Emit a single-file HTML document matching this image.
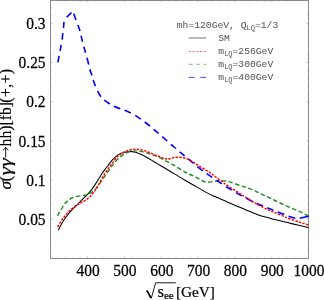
<!DOCTYPE html>
<html><head><meta charset="utf-8"><title>plot</title>
<style>
html,body{margin:0;padding:0;background:#fff;}
body{width:324px;height:300px;overflow:hidden;font-family:"Liberation Serif",serif;}
svg{display:block;will-change:transform;}
</style></head><body>
<svg width="324" height="300" viewBox="0 0 324 300">
<rect x="0" y="0" width="324" height="300" fill="#fff"/>
<rect x="50.50" y="0.50" width="258.00" height="258.00" fill="none" stroke="#8a8a8a" stroke-width="1.00"/>
<path d="M58.14 258.50v-1.10M58.14 0.50v1.10M65.50 258.50v-1.10M65.50 0.50v1.10M72.87 258.50v-1.10M72.87 0.50v1.10M80.23 258.50v-1.10M80.23 0.50v1.10M87.60 258.50v-1.80M87.60 0.50v1.80M94.97 258.50v-1.10M94.97 0.50v1.10M102.33 258.50v-1.10M102.33 0.50v1.10M109.70 258.50v-1.10M109.70 0.50v1.10M117.06 258.50v-1.10M117.06 0.50v1.10M124.43 258.50v-1.80M124.43 0.50v1.80M131.80 258.50v-1.10M131.80 0.50v1.10M139.16 258.50v-1.10M139.16 0.50v1.10M146.53 258.50v-1.10M146.53 0.50v1.10M153.89 258.50v-1.10M153.89 0.50v1.10M161.26 258.50v-1.80M161.26 0.50v1.80M168.63 258.50v-1.10M168.63 0.50v1.10M175.99 258.50v-1.10M175.99 0.50v1.10M183.36 258.50v-1.10M183.36 0.50v1.10M190.72 258.50v-1.10M190.72 0.50v1.10M198.09 258.50v-1.80M198.09 0.50v1.80M205.46 258.50v-1.10M205.46 0.50v1.10M212.82 258.50v-1.10M212.82 0.50v1.10M220.19 258.50v-1.10M220.19 0.50v1.10M227.55 258.50v-1.10M227.55 0.50v1.10M234.92 258.50v-1.80M234.92 0.50v1.80M242.29 258.50v-1.10M242.29 0.50v1.10M249.65 258.50v-1.10M249.65 0.50v1.10M257.02 258.50v-1.10M257.02 0.50v1.10M264.38 258.50v-1.10M264.38 0.50v1.10M271.75 258.50v-1.80M271.75 0.50v1.80M279.12 258.50v-1.10M279.12 0.50v1.10M286.48 258.50v-1.10M286.48 0.50v1.10M293.85 258.50v-1.10M293.85 0.50v1.10M301.21 258.50v-1.10M301.21 0.50v1.10M308.58 258.50v-1.80M308.58 0.50v1.80M50.50 250.25h1.10M308.50 250.25h-1.10M50.50 242.43h1.10M308.50 242.43h-1.10M50.50 234.60h1.10M308.50 234.60h-1.10M50.50 226.78h1.10M308.50 226.78h-1.10M50.50 218.95h1.80M308.50 218.95h-1.80M50.50 211.12h1.10M308.50 211.12h-1.10M50.50 203.30h1.10M308.50 203.30h-1.10M50.50 195.47h1.10M308.50 195.47h-1.10M50.50 187.65h1.10M308.50 187.65h-1.10M50.50 179.82h1.80M308.50 179.82h-1.80M50.50 171.99h1.10M308.50 171.99h-1.10M50.50 164.17h1.10M308.50 164.17h-1.10M50.50 156.34h1.10M308.50 156.34h-1.10M50.50 148.52h1.10M308.50 148.52h-1.10M50.50 140.69h1.80M308.50 140.69h-1.80M50.50 132.86h1.10M308.50 132.86h-1.10M50.50 125.04h1.10M308.50 125.04h-1.10M50.50 117.21h1.10M308.50 117.21h-1.10M50.50 109.39h1.10M308.50 109.39h-1.10M50.50 101.56h1.80M308.50 101.56h-1.80M50.50 93.73h1.10M308.50 93.73h-1.10M50.50 85.91h1.10M308.50 85.91h-1.10M50.50 78.08h1.10M308.50 78.08h-1.10M50.50 70.26h1.10M308.50 70.26h-1.10M50.50 62.43h1.80M308.50 62.43h-1.80M50.50 54.60h1.10M308.50 54.60h-1.10M50.50 46.78h1.10M308.50 46.78h-1.10M50.50 38.95h1.10M308.50 38.95h-1.10M50.50 31.13h1.10M308.50 31.13h-1.10M50.50 23.30h1.80M308.50 23.30h-1.80M50.50 15.47h1.10M308.50 15.47h-1.10M50.50 7.65h1.10M308.50 7.65h-1.10" stroke="#8a8a8a" stroke-width="0.60" fill="none"/>
<g fill="none" stroke-linecap="butt" stroke-linejoin="round">
<path d="M58.40 230.20 C58.60 229.77 58.93 228.90 59.60 227.60 C60.27 226.30 61.47 223.97 62.40 222.40 C63.33 220.83 64.27 219.52 65.20 218.20 C66.13 216.88 67.07 215.67 68.00 214.50 C68.93 213.33 69.87 212.25 70.80 211.20 C71.73 210.15 72.50 209.32 73.60 208.20 C74.70 207.08 76.15 205.75 77.40 204.50 C78.65 203.25 80.22 201.60 81.10 200.70 C81.98 199.80 81.67 200.10 82.70 199.10 C83.73 198.10 85.75 196.37 87.30 194.70 C88.85 193.03 90.58 190.97 92.00 189.10 C93.42 187.23 94.70 185.22 95.80 183.50 C96.90 181.78 97.83 180.02 98.60 178.80 C99.37 177.58 99.87 177.05 100.40 176.20 C100.93 175.35 100.98 174.90 101.80 173.70 C102.62 172.50 104.12 170.55 105.30 169.00 C106.48 167.45 107.72 165.92 108.90 164.40 C110.08 162.88 111.00 161.40 112.40 159.90 C113.80 158.40 115.93 156.45 117.30 155.40 C118.67 154.35 119.57 154.08 120.60 153.60 C121.63 153.12 121.98 152.87 123.50 152.50 C125.02 152.13 127.70 151.43 129.70 151.40 C131.70 151.37 133.73 151.87 135.50 152.30 C137.27 152.73 138.75 153.35 140.30 154.00 C141.85 154.65 143.02 155.22 144.80 156.20 C146.58 157.18 148.93 158.67 151.00 159.90 C153.07 161.13 155.13 162.37 157.20 163.60 C159.27 164.83 161.33 166.07 163.40 167.30 C165.47 168.53 167.75 169.90 169.60 171.00 C171.45 172.10 171.93 172.37 174.50 173.90 C177.07 175.43 181.40 178.08 185.00 180.20 C188.60 182.32 192.35 184.45 196.10 186.60 C199.85 188.75 204.35 191.43 207.50 193.10 C210.65 194.77 211.70 195.13 215.00 196.60 C218.30 198.07 223.50 200.27 227.30 201.90 C231.10 203.53 234.85 205.13 237.80 206.40 C240.75 207.67 241.75 208.17 245.00 209.50 C248.25 210.83 253.18 212.95 257.30 214.40 C261.42 215.85 266.75 217.33 269.70 218.20 C272.65 219.07 272.07 218.87 275.00 219.60 C277.93 220.33 283.18 221.62 287.30 222.60 C291.42 223.58 296.15 224.65 299.70 225.50 C303.25 226.35 307.12 227.33 308.60 227.70" stroke="#000" stroke-width="1.05"/>
<path d="M57.60 215.80 C57.93 215.18 58.80 213.48 59.60 212.10 C60.40 210.72 61.47 208.97 62.40 207.50 C63.33 206.03 64.27 204.43 65.20 203.30 C66.13 202.17 66.90 201.58 68.00 200.70 C69.10 199.82 70.30 198.72 71.80 198.00 C73.30 197.28 75.03 196.83 77.00 196.40 C78.97 195.97 81.93 195.65 83.60 195.40 C85.27 195.15 86.07 195.17 87.00 194.90 C87.93 194.63 88.20 194.38 89.20 193.80 C90.20 193.22 91.75 192.42 93.00 191.40 C94.25 190.38 95.62 188.95 96.70 187.70 C97.78 186.45 98.57 185.23 99.50 183.90 C100.43 182.57 101.37 181.03 102.30 179.70 C103.23 178.37 103.83 177.68 105.10 175.90 C106.37 174.12 108.27 171.28 109.90 169.00 C111.53 166.72 113.25 164.15 114.90 162.20 C116.55 160.25 118.15 158.73 119.80 157.30 C121.45 155.87 123.15 154.53 124.80 153.60 C126.45 152.67 127.92 152.15 129.70 151.70 C131.48 151.25 133.62 150.95 135.50 150.90 C137.38 150.85 139.03 151.03 141.00 151.40 C142.97 151.77 145.22 152.47 147.30 153.10 C149.38 153.73 151.43 154.43 153.50 155.20 C155.57 155.97 157.63 156.75 159.70 157.70 C161.77 158.65 163.85 159.80 165.90 160.90 C167.95 162.00 170.57 163.52 172.00 164.30 C173.43 165.08 172.33 164.30 174.50 165.60 C176.67 166.90 182.02 170.45 185.00 172.10 C187.98 173.75 189.93 174.28 192.40 175.50 C194.87 176.72 197.92 178.40 199.80 179.40 C201.68 180.40 202.42 181.03 203.70 181.50 C204.98 181.97 206.10 182.17 207.50 182.20 C208.90 182.23 210.55 181.92 212.10 181.70 C213.65 181.48 215.23 181.08 216.80 180.90 C218.37 180.72 219.93 180.58 221.50 180.60 C223.07 180.62 224.80 180.80 226.20 181.00 C227.60 181.20 227.65 181.07 229.90 181.80 C232.15 182.53 237.02 184.47 239.70 185.40 C242.38 186.33 243.53 186.52 246.00 187.40 C248.47 188.28 252.62 189.90 254.50 190.70 C256.38 191.50 254.77 191.00 257.30 192.20 C259.83 193.40 266.75 196.52 269.70 197.90 C272.65 199.28 272.73 199.38 275.00 200.50 C277.27 201.62 281.25 203.63 283.30 204.60 C285.35 205.57 284.57 205.12 287.30 206.30 C290.03 207.48 296.15 210.08 299.70 211.70 C303.25 213.32 307.12 215.28 308.60 216.00" stroke="#228b22" stroke-width="1.40" stroke-dasharray="4.4 2.5"/>
<path d="M57.90 62.30C58.10 61.23 58.73 57.78 59.10 55.90M60.10 51.00C60.45 49.15 60.86 46.70 61.20 44.80M62.15 39.60C62.42 37.65 62.62 35.03 62.85 33.10M63.50 28.00C63.70 26.13 63.80 23.37 64.05 21.90M66.60 17.30C67.68 16.20 70.52 13.50 71.50 12.60M73.70 13.60C74.27 14.95 75.20 18.10 75.90 20.00M77.90 25.00C78.58 26.83 79.47 29.23 80.00 31.00M81.10 35.60C81.52 37.38 82.05 39.85 82.50 41.70M83.80 46.70C84.32 48.55 85.07 50.95 85.60 52.80M87.00 57.80C87.52 59.77 88.23 62.68 88.70 64.60M89.80 69.30C90.33 71.10 91.33 73.62 91.90 75.40M93.20 80.00C93.78 81.78 94.68 84.28 95.40 86.10M97.50 90.90C98.42 92.67 99.77 95.17 100.90 96.70M104.30 100.10C105.78 101.32 108.20 102.98 109.80 104.00M113.90 106.20C115.65 107.00 118.52 108.12 120.30 108.80M124.60 110.30C126.35 111.01 129.03 112.20 130.80 113.05M135.20 115.40C136.87 116.41 139.20 118.00 140.80 119.10M144.80 122.00C146.35 123.18 148.63 124.98 150.10 126.20M153.60 129.30C155.03 130.50 157.27 132.20 158.70 133.40M162.20 136.50C163.63 137.77 165.83 139.68 167.30 141.00M171.00 144.40C172.45 145.68 174.55 147.45 176.00 148.70M179.70 151.90C181.13 153.10 183.20 154.73 184.60 155.90M188.10 158.90C189.60 160.17 192.07 162.22 193.60 163.50M197.30 166.60C198.85 167.83 201.35 169.73 202.90 170.90M206.60 173.60C208.15 174.68 210.55 176.29 212.20 177.40M216.50 180.25C218.10 181.33 220.20 182.83 221.80 183.90M226.10 186.70C227.75 187.72 230.05 189.02 231.70 190.00M236.00 192.60C237.70 193.58 240.22 194.99 241.90 195.90M246.05 198.05C247.75 198.94 250.32 200.36 252.10 201.25M256.70 203.40C258.50 204.16 261.15 205.07 262.90 205.80M267.20 207.80C268.95 208.53 271.67 209.48 273.40 210.20M277.60 212.10C279.42 212.82 282.47 213.82 284.30 214.50M288.60 216.20C290.45 216.82 293.90 217.80 295.40 218.20M299.70 218.20C301.53 217.80 307.12 216.53 308.60 216.20" stroke="#0000ff" stroke-width="1.60"/>
<path d="M57.70 226.80 C58.25 225.88 59.90 222.98 61.00 221.30 C62.10 219.62 63.13 218.18 64.30 216.70 C65.47 215.22 66.60 213.83 68.00 212.40 C69.40 210.97 71.13 209.35 72.70 208.10 C74.27 206.85 75.77 205.93 77.40 204.90 C79.03 203.87 80.65 203.05 82.50 201.90 C84.35 200.75 86.70 199.52 88.50 198.00 C90.30 196.48 91.88 194.55 93.30 192.80 C94.72 191.05 95.80 189.45 97.00 187.50 C98.20 185.55 99.27 183.30 100.50 181.10 C101.73 178.90 103.10 176.38 104.40 174.30 C105.70 172.22 106.98 170.43 108.30 168.60 C109.62 166.77 110.80 165.28 112.30 163.30 C113.80 161.32 115.43 158.53 117.30 156.70 C119.17 154.87 121.43 153.43 123.50 152.30 C125.57 151.17 127.70 150.40 129.70 149.90 C131.70 149.40 133.62 149.32 135.50 149.30 C137.38 149.28 139.03 149.40 141.00 149.80 C142.97 150.20 145.22 150.97 147.30 151.70 C149.38 152.43 151.43 153.37 153.50 154.20 C155.57 155.03 157.85 155.98 159.70 156.70 C161.55 157.42 163.18 158.11 164.60 158.50 C166.02 158.89 166.93 159.15 168.20 159.05 C169.47 158.95 170.70 158.21 172.20 157.90 C173.70 157.59 175.33 157.23 177.20 157.20 C179.07 157.17 181.55 157.33 183.40 157.70 C185.25 158.07 186.65 158.68 188.30 159.40 C189.95 160.12 191.80 161.10 193.30 162.00 C194.80 162.90 194.57 163.05 197.30 164.80 C200.03 166.55 206.75 170.55 209.70 172.50 C212.65 174.45 212.95 175.00 215.00 176.50 C217.05 178.00 219.95 180.00 222.00 181.50 C224.05 183.00 224.35 183.52 227.30 185.50 C230.25 187.48 236.75 191.50 239.70 193.40 C242.65 195.30 242.53 195.33 245.00 196.90 C247.47 198.47 252.45 201.55 254.50 202.80 C256.55 204.05 254.77 203.12 257.30 204.40 C259.83 205.68 266.75 209.12 269.70 210.50 C272.65 211.88 272.53 211.68 275.00 212.70 C277.47 213.72 282.45 215.73 284.50 216.60 C286.55 217.47 284.77 216.97 287.30 217.90 C289.83 218.83 296.15 221.02 299.70 222.20 C303.25 223.38 307.12 224.53 308.60 225.00" stroke="#ff0000" stroke-width="1.45" stroke-dasharray="2.4 1.3"/>
</g>
<g font-family="'Liberation Serif', serif" font-size="16.30" fill="#000" stroke="#000" stroke-width="0.25">
<text transform="translate(88.10 276.00) scale(0.950 1)" text-anchor="middle">400</text>
<text transform="translate(124.93 276.00) scale(0.950 1)" text-anchor="middle">500</text>
<text transform="translate(161.76 276.00) scale(0.950 1)" text-anchor="middle">600</text>
<text transform="translate(198.59 276.00) scale(0.950 1)" text-anchor="middle">700</text>
<text transform="translate(235.42 276.00) scale(0.950 1)" text-anchor="middle">800</text>
<text transform="translate(272.25 276.00) scale(0.950 1)" text-anchor="middle">900</text>
<text transform="translate(309.08 276.00) scale(0.950 1)" text-anchor="middle">1000</text>
<text transform="translate(45.60 29.20) scale(0.950 1)" text-anchor="end">0.3</text>
<text transform="translate(45.60 68.33) scale(0.950 1)" text-anchor="end">0.25</text>
<text transform="translate(45.60 107.46) scale(0.950 1)" text-anchor="end">0.2</text>
<text transform="translate(45.60 146.59) scale(0.950 1)" text-anchor="end">0.15</text>
<text transform="translate(45.60 185.72) scale(0.950 1)" text-anchor="end">0.1</text>
<text transform="translate(45.60 224.85) scale(0.950 1)" text-anchor="end">0.05</text>
</g>
<g font-family="'Liberation Serif', serif" font-size="15.30" fill="#000" stroke="#000" stroke-width="0.2">
<path d="M145.8 291.6 L147.3 290.7 L151.3 298.2 L155.6 282.8 L175.8 282.8" fill="none" stroke="#000" stroke-width="0.9"/>
<path d="M147.0 290.7 L151.0 298.0" fill="none" stroke="#000" stroke-width="1.6"/>
<text x="157.60" y="297.30" font-size="16.60">s</text>
<text x="163.90" y="299.30" font-size="11.20">ee</text>
<text x="175.90" y="297.30">[GeV]</text>
</g>
<g font-family="'Liberation Serif', serif" font-size="16.00" fill="#000" stroke="#000" stroke-width="0.2" transform="translate(11.30 189.50) rotate(-90)">
<text x="0.00" y="0" font-style="italic" font-size="17.20">σ</text>
<text x="8.20" y="0">(</text>
<text x="14.00" y="0.00" font-style="italic" textLength="17.30" lengthAdjust="spacingAndGlyphs">γγ</text>
<path d="M31.90 -5.60H42.10 M39.10 -8.20L42.10 -5.60L39.10 -3.00" fill="none" stroke="#000" stroke-width="0.9"/>
<text x="43.10" y="0" textLength="44.40" lengthAdjust="spacingAndGlyphs">hh)[fb]</text>
<text x="86.80" y="0" textLength="33.90" lengthAdjust="spacing">(+,+)</text>
</g>
<g font-family="'Liberation Mono', monospace" font-size="9.70" fill="#505050">
<text x="176.80" y="28.40">mh=120GeV, Q<tspan font-size="7.00" dy="1.50">LQ</tspan><tspan dy="-1.50">=1/3</tspan></text>
<text x="218.30" y="40.90">SM</text>
<text x="218.30" y="54.40">m<tspan font-size="7.00" dy="1.50">LQ</tspan><tspan dy="-1.50">=256GeV</tspan></text>
<text x="218.30" y="67.20">m<tspan font-size="7.00" dy="1.50">LQ</tspan><tspan dy="-1.50">=300GeV</tspan></text>
<text x="218.30" y="80.30">m<tspan font-size="7.00" dy="1.50">LQ</tspan><tspan dy="-1.50">=400GeV</tspan></text>
</g>
<g fill="none">
<path d="M188.60 38.00H206.40" stroke="#000" stroke-width="1.00" opacity="0.55"/>
<path d="M188.60 51.50H206.40" stroke="#ff0000" stroke-width="0.80" stroke-dasharray="2.4 1.35" opacity="0.65"/>
<path d="M188.60 64.30H206.40" stroke="#228b22" stroke-width="0.80" stroke-dasharray="4.1 3.3" opacity="0.70"/>
<path d="M188.60 77.40H206.40" stroke="#0000ff" stroke-width="0.90" stroke-dasharray="6 5.6" opacity="0.80"/>
</g>
</svg>
</body></html>
